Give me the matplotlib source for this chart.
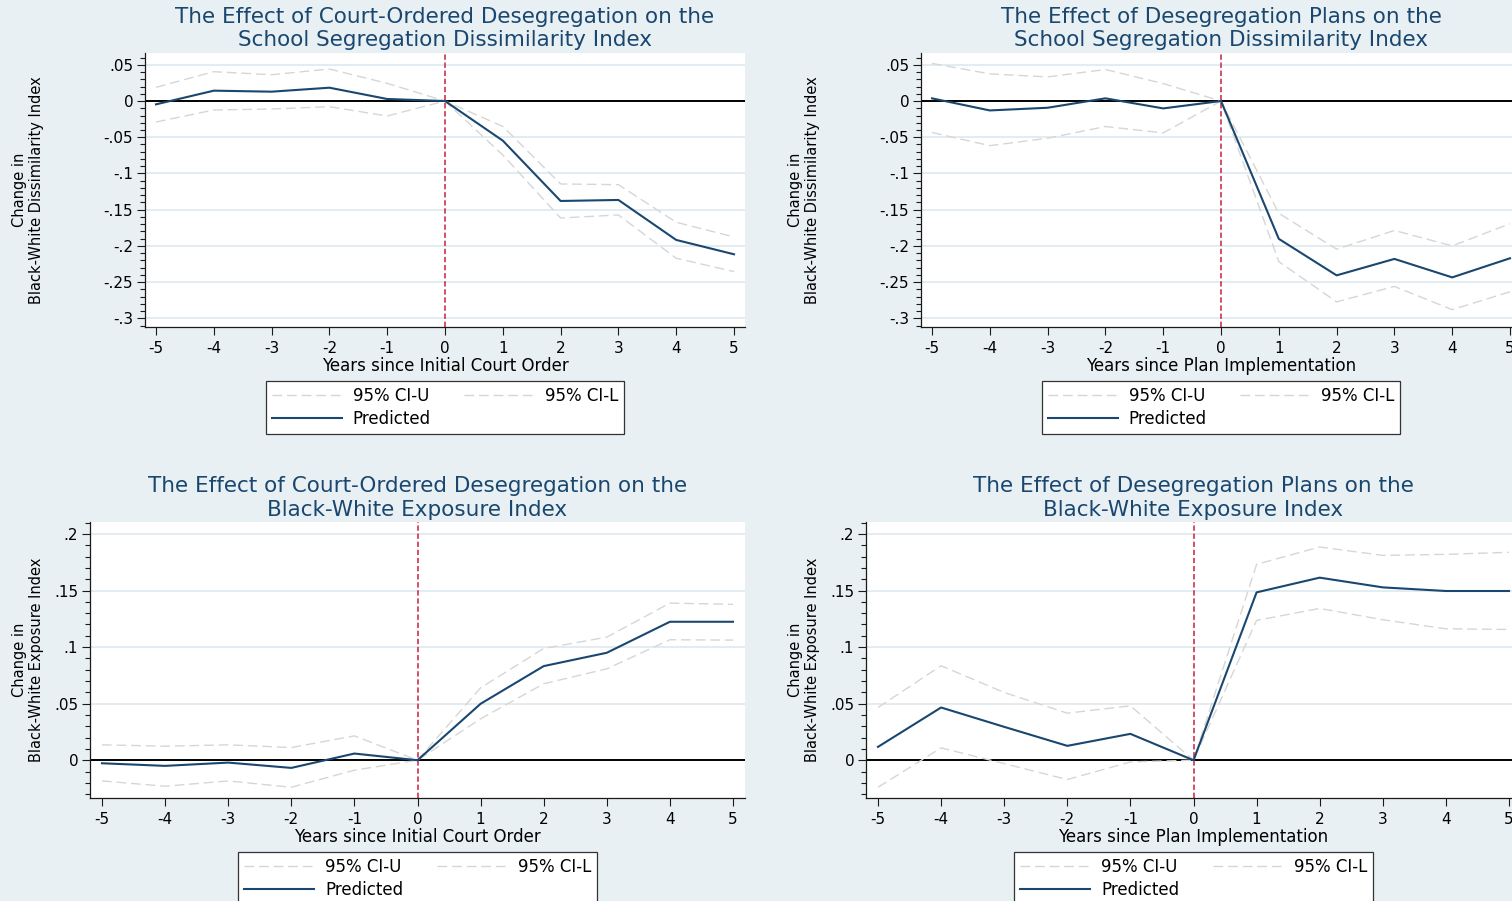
import matplotlib
matplotlib.use("Agg")
import matplotlib.pyplot as plt
from matplotlib.ticker import FixedLocator, FixedFormatter, MultipleLocator
from matplotlib.lines import Line2D

plt.rcParams["font.family"] = ["DejaVu Sans"]

# ---------------------------------------------------------------- data
years = [-5, -4, -3, -2, -1, 0, 1, 2, 3, 4, 5]

# Dissimilarity index, court-ordered desegregation
court_dis_pred = [-0.0046, 0.0143, 0.0129, 0.0184, 0.0028, 0.0, -0.0547, -0.1380, -0.1366, -0.1918, -0.2116]
court_dis_ciu = [0.0189, 0.0405, 0.0363, 0.0442, 0.0244, 0.0, -0.0350, -0.1145, -0.1155, -0.1674, -0.1877]
court_dis_cil = [-0.0290, -0.0124, -0.0110, -0.0078, -0.0207, 0.0, -0.0745, -0.1615, -0.1573, -0.2171, -0.2355]

# Dissimilarity index, desegregation plans
plan_dis_pred = [0.0037, -0.0130, -0.0093, 0.0037, -0.0102, 0.0, -0.1903, -0.2407, -0.2180, -0.2435, -0.2171]
plan_dis_ciu = [0.0519, 0.0375, 0.0333, 0.0435, 0.0241, 0.0, -0.1550, -0.2046, -0.1787, -0.2000, -0.1694]
plan_dis_cil = [-0.0435, -0.0616, -0.0514, -0.0352, -0.0440, 0.0, -0.2218, -0.2773, -0.2560, -0.2880, -0.2634]

# Exposure index, court-ordered desegregation
court_exp_pred = [-0.0027, -0.0050, -0.0021, -0.0068, 0.0059, 0.0, 0.0499, 0.0832, 0.0950, 0.1224, 0.1224]
court_exp_ciu = [0.0136, 0.0124, 0.0136, 0.0112, 0.0215, 0.0, 0.0640, 0.0988, 0.1088, 0.1389, 0.1378]
court_exp_cil = [-0.0183, -0.0230, -0.0183, -0.0239, -0.0088, 0.0, 0.0366, 0.0676, 0.0808, 0.1065, 0.1062]

# Exposure index, desegregation plans
plan_exp_pred = [0.0118, 0.0466, 0.0295, 0.0127, 0.0233, 0.0, 0.1484, 0.1614, 0.1528, 0.1496, 0.1496]
plan_exp_ciu = [0.0466, 0.0835, 0.0599, 0.0416, 0.0481, 0.0, 0.1732, 0.1885, 0.1811, 0.1820, 0.1838]
plan_exp_cil = [-0.0239, 0.0109, -0.0030, -0.0171, -0.0015, 0.0, 0.1236, 0.1342, 0.1242, 0.1162, 0.1156]

xticklabels = ["-5", "-4", "-3", "-2", "-1", "0", "1", "2", "3", "4", "5"]
dis_yticks = [0.05, 0, -0.05, -0.1, -0.15, -0.2, -0.25, -0.3]
dis_yticklabels = [".05", "0", "-.05", "-.1", "-.15", "-.2", "-.25", "-.3"]
exp_yticks = [0.2, 0.15, 0.1, 0.05, 0]
exp_yticklabels = [".2", ".15", ".1", ".05", "0"]

titles = [
    ["The Effect of Court-Ordered Desegregation on the", "School Segregation Dissimilarity Index"],
    ["The Effect of Desegregation Plans on the", "School Segregation Dissimilarity Index"],
    ["The Effect of Court-Ordered Desegregation on the", "Black-White Exposure Index"],
    ["The Effect of Desegregation Plans on the", "Black-White Exposure Index"],
]
xlabels = [
    "Years since Initial Court Order",
    "Years since Plan Implementation",
    "Years since Initial Court Order",
    "Years since Plan Implementation",
]
ylabels = [
    "Change in\nBlack-White Dissimilarity Index",
    "Change in\nBlack-White Dissimilarity Index",
    "Change in\nBlack-White Exposure Index",
    "Change in\nBlack-White Exposure Index",
]
legend_labels = ["95% CI-U", "95% CI-L", "Predicted"]

# ---------------------------------------------------------------- style
W, H = 1512, 901
BG = "#e8f0f3"
GRID = "#e3edf1"
NAVY = "#1a476f"
CI_COL = "#d6d6d6"
RED = "#cc1f3f"

fig = plt.figure(figsize=(W / 100, H / 100), dpi=100, facecolor=BG)


def add_px_axes(left, top, right, bottom):
    return fig.add_axes([left / W, 1 - bottom / H, (right - left) / W, (bottom - top) / H])


panels = [
    # geometry (px), y-limits, ticks, series, ylabel offset
    dict(box=(145, 53, 745, 327), ylim=(-0.312, 0.0663), yt=dis_yticks, ytl=dis_yticklabels,
         s=(court_dis_ciu, court_dis_cil, court_dis_pred), yl_off=117),
    dict(box=(921, 53, 1521, 327), ylim=(-0.312, 0.0663), yt=dis_yticks, ytl=dis_yticklabels,
         s=(plan_dis_ciu, plan_dis_cil, plan_dis_pred), yl_off=117),
    dict(box=(90, 522, 745, 798), ylim=(-0.0334, 0.2106), yt=exp_yticks, ytl=exp_yticklabels,
         s=(court_exp_ciu, court_exp_cil, court_exp_pred), yl_off=62),
    dict(box=(866, 522, 1521, 798), ylim=(-0.0334, 0.2106), yt=exp_yticks, ytl=exp_yticklabels,
         s=(plan_exp_ciu, plan_exp_cil, plan_exp_pred), yl_off=62),
]

ci_style = dict(color=CI_COL, lw=1.0, dashes=(7, 3.5))
pred_style = dict(color=NAVY, lw=1.5)

for i, p in enumerate(panels):
    left, top, right, bottom = p["box"]
    ax = add_px_axes(left, top, right, bottom)
    ax.set_facecolor("white")
    ciu, cil, pred = p["s"]

    ax.axhline(0, color="black", lw=1.4, zorder=1.5)
    ax.axvline(0, color=RED, lw=1.1, dashes=(3.5, 1.8), zorder=1.6)
    ax.plot(years, ciu, zorder=2, **ci_style)
    ax.plot(years, cil, zorder=2, **ci_style)
    ax.plot(years, pred, zorder=3, **pred_style)

    ax.set_xlim(-5.19, 5.19)
    ax.set_ylim(*p["ylim"])
    ax.xaxis.set_major_locator(FixedLocator(years))
    ax.xaxis.set_major_formatter(FixedFormatter(xticklabels))
    ax.yaxis.set_major_locator(FixedLocator(p["yt"]))
    ax.yaxis.set_major_formatter(FixedFormatter(p["ytl"]))
    ax.yaxis.set_minor_locator(MultipleLocator(0.01))

    ax.grid(axis="y", which="major", color=GRID, lw=1.4, zorder=0)
    ax.set_axisbelow(True)
    for side in ("top", "right"):
        ax.spines[side].set_visible(False)
    for side in ("left", "bottom"):
        ax.spines[side].set_color("#1a1a1a")
        ax.spines[side].set_linewidth(0.9)

    ax.tick_params(axis="both", which="major", direction="out", length=6, width=0.8,
                   color="#1a1a1a", labelsize=11, pad=2.5)
    ax.tick_params(axis="y", which="minor", direction="out", length=3.5, width=0.8, color="#1a1a1a")
    ax.tick_params(axis="x", which="major", pad=4)

    ax.set_xlabel(xlabels[i], fontsize=12, labelpad=0.5)

    cx = (left + right) / 2
    cy = (top + bottom) / 2
    fig.text(cx / W, 1 - (top - 30) / H, titles[i][0], ha="center", va="baseline",
             fontsize=15.5, color=NAVY)
    fig.text(cx / W, 1 - (top - 6.5) / H, titles[i][1], ha="center", va="baseline",
             fontsize=15.5, color=NAVY)
    fig.text((left - p["yl_off"]) / W, 1 - cy / H, ylabels[i], rotation=90, ha="center",
             va="center", multialignment="center", fontsize=10.5, linespacing=1.15)

    handles = [
        Line2D([], [], **ci_style),
        Line2D([], [], **pred_style),
        Line2D([], [], **ci_style),
    ]
    labels = [legend_labels[0], legend_labels[2], legend_labels[1]]
    leg = fig.legend(handles, labels, ncol=2, loc="upper center",
                     bbox_to_anchor=(cx / W, 1 - (bottom + 54) / H),
                     fontsize=12, frameon=True, fancybox=False, framealpha=1,
                     edgecolor="#333333", facecolor="white", borderaxespad=0,
                     borderpad=0.34, handlelength=4.2, handletextpad=0.66,
                     columnspacing=2.0, labelspacing=0.32)
    leg.get_frame().set_linewidth(0.9)

fig.savefig("out.png", dpi=100, facecolor=BG)
